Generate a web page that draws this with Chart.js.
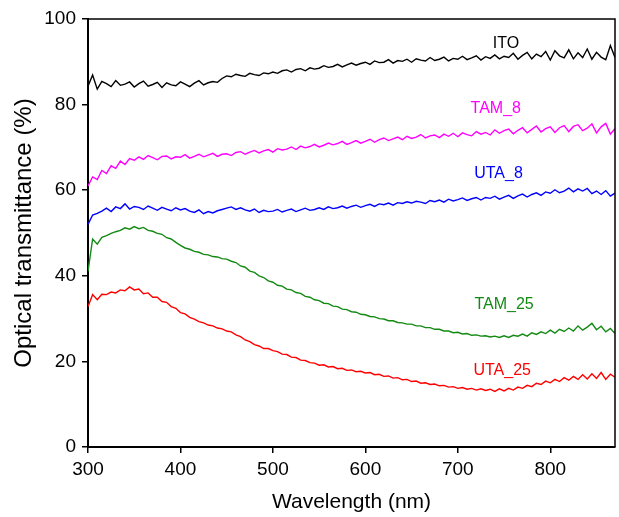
<!DOCTYPE html>
<html>
<head>
<meta charset="utf-8">
<script src="https://cdn.jsdelivr.net/npm/chart.js@4.4.0/dist/chart.umd.min.js"></script>
<style>
    html, body { margin: 0; padding: 0; background: #fff; }
    #wrap { width: 619px; height: 517px; }
</style>
</head>
<body>
<div id="wrap"><canvas id="spectraChart" width="619" height="517"></canvas></div>
<script>
// sampling grid (nm), every 5 nm from 300 to 870
const wavelengths = [];
for (let w = 300; w <= 870; w += 5) wavelengths.push(w);

const xTicks = [300, 400, 500, 600, 700, 800];
const yTicks = [0, 20, 40, 60, 80, 100];

const ito = [
    84.3, 86.9, 83.6, 85.4, 84.9, 84.2, 85.6, 84.5, 84.8, 85.3,
    84.1, 84.9, 85.5, 84.3, 84.7, 85.2, 84.0, 85.1, 84.6, 84.4,
    85.3, 84.8, 84.2, 85.0, 85.6, 84.6, 85.1, 85.4, 85.2, 86.1,
    86.7, 86.5, 87.1, 86.8, 86.6, 87.3, 87.0, 86.8, 87.4, 87.2,
    87.6, 87.3, 87.9, 88.1, 87.6, 88.2, 88.4, 87.9, 88.6, 88.3,
    88.5, 89.1, 88.7, 88.9, 89.4, 88.8, 89.3, 89.7, 89.2, 89.6,
    89.9, 89.4, 90.2, 89.8, 89.9, 90.5, 89.7, 90.3, 90.1, 90.6,
    89.9, 90.7, 90.4, 90.2, 91.0, 90.3, 90.6, 91.1, 90.2, 90.8,
    90.6, 91.3, 90.5, 90.9, 91.4, 90.4, 91.2, 90.8, 91.6, 90.7,
    91.3, 91.0, 92.0, 90.6, 91.5, 92.2, 90.7, 91.8, 91.2, 92.4,
    90.4, 92.6, 91.4, 90.9, 92.8, 90.7, 92.1, 91.0, 93.0, 90.6,
    92.2, 91.1, 90.5, 93.8, 91.0
];

const tam8 = [
    61.0, 63.1, 62.5, 64.6, 63.9, 65.7, 65.1, 66.8, 66.0, 67.4,
    67.0, 67.8, 67.2, 68.1, 67.6, 67.1, 67.9, 68.0, 67.3, 67.8,
    67.7, 68.3, 67.5, 67.9, 68.4, 67.8, 68.2, 68.6, 67.9, 68.4,
    68.5, 68.1, 68.8, 69.0, 68.4, 68.9, 69.3, 68.7, 69.2, 69.5,
    68.9, 69.7, 69.4, 69.6, 70.1, 69.5, 70.3, 69.9, 70.2, 70.7,
    70.1, 70.5, 71.0, 70.6, 70.9, 71.4, 70.7, 71.1, 71.6, 71.0,
    71.4, 71.9, 71.2, 71.8, 72.2, 71.6, 72.0, 72.4, 71.8, 72.6,
    72.1, 72.4, 73.0, 72.2, 72.7, 72.9, 72.3, 73.1, 72.6, 73.3,
    72.5, 73.4, 73.0, 72.7, 73.7, 73.1, 73.5, 72.9, 74.1, 73.3,
    73.9, 74.3, 73.2, 74.0, 74.6, 73.4, 74.2, 75.0, 73.6, 74.4,
    74.8, 73.5, 74.6, 75.1, 73.7, 74.9, 75.3, 73.9, 74.5, 75.5,
    73.4, 74.8, 75.6, 73.1, 74.4
];

const uta8 = [
    52.0, 54.2, 54.6, 55.1, 55.8, 55.0, 56.1, 55.7, 56.8, 55.6,
    56.2, 56.0, 55.5, 56.3, 55.8, 55.3, 56.0, 55.6, 55.2, 55.9,
    55.4, 55.7, 55.1, 54.8, 55.4, 54.5, 55.0, 54.7, 55.2, 55.5,
    55.8, 56.1, 55.5, 55.9, 55.4, 55.1, 55.6, 54.8, 55.3, 55.0,
    55.1, 55.5, 54.9, 55.3, 55.6, 55.0, 55.4, 55.8, 55.3, 55.5,
    55.9, 55.5, 56.1, 55.7, 55.9, 56.3, 55.8, 56.2, 56.5, 56.0,
    56.4, 56.7, 56.2, 56.8, 56.6, 57.0, 56.5, 57.1, 56.9, 57.3,
    57.0, 57.4, 57.2, 56.9, 57.6, 57.3, 57.7, 57.2, 57.9, 57.5,
    57.8, 58.2, 57.6, 58.0, 58.3, 57.7, 58.3, 58.1, 58.6, 57.9,
    58.4, 58.8, 58.1, 58.7, 59.1, 58.4, 59.0, 59.4, 58.8, 59.6,
    59.3, 60.1, 59.4, 59.8, 60.5, 59.6, 60.3, 59.8, 60.4, 59.2,
    59.8, 59.0, 59.9, 58.6, 59.3
];

const tam25 = [
    41.0, 48.6, 47.4, 49.0, 49.4, 49.9, 50.3, 50.6, 51.2, 50.9,
    51.5, 51.0, 51.3, 50.6, 50.4, 49.9, 49.7, 48.9, 48.6, 47.8,
    47.1, 46.5, 46.2, 45.7, 45.5, 45.0, 44.9, 44.5, 44.4, 44.0,
    43.9, 43.4, 43.1, 42.3, 42.0, 41.1, 40.8, 40.0, 39.6, 38.8,
    38.5, 37.8, 37.6, 36.9, 36.7, 36.1, 35.9, 35.2, 35.0, 34.4,
    34.2, 33.6, 33.5, 32.9, 32.8, 32.2, 32.1, 31.6, 31.5, 31.0,
    30.9, 30.5, 30.4, 30.0, 29.9, 29.5, 29.5, 29.1, 29.0, 28.7,
    28.7, 28.3, 28.3, 27.9, 27.9, 27.5, 27.5, 27.1, 27.1, 26.7,
    26.8, 26.4, 26.5, 26.1, 26.2, 25.9, 26.0, 25.7, 25.9, 25.6,
    26.0, 25.6, 26.1, 25.9, 26.4, 25.9, 26.7, 26.3, 26.9, 26.5,
    27.3, 26.6, 27.5, 27.0, 27.8, 27.1, 28.3, 27.3, 28.0, 28.9,
    27.4, 28.2, 26.9, 27.7, 26.5
];

const uta25 = [
    32.8, 35.6, 34.4, 35.7, 35.6, 36.2, 36.0, 36.7, 36.5, 37.4,
    36.7, 36.9, 35.8, 36.0, 35.0, 35.0, 34.0, 33.8, 32.8, 32.4,
    31.4, 31.1, 30.3, 29.9, 29.3, 29.0, 28.5, 28.3, 27.8, 27.6,
    27.1, 26.9, 26.2, 25.8, 25.0, 24.6, 23.9, 23.6, 23.0, 23.0,
    22.5, 22.3, 21.7, 21.6, 21.0, 20.9, 20.3, 20.2, 19.7, 19.6,
    19.1, 19.2, 18.7, 18.8, 18.3, 18.4, 17.9, 18.0, 17.6, 17.7,
    17.3, 17.4, 16.9, 17.0, 16.5, 16.6, 16.1, 16.2, 15.7, 15.8,
    15.3, 15.4, 14.9, 15.0, 14.6, 14.7, 14.3, 14.4, 14.0, 14.1,
    13.7, 13.9, 13.5, 13.7, 13.3, 13.6, 13.2, 13.5, 13.0, 13.6,
    13.1, 13.7, 13.3, 14.0, 13.7, 14.4, 14.1, 14.9, 14.6, 15.4,
    15.0, 15.8, 15.3, 16.2, 15.6, 16.5, 15.8, 16.9, 15.9, 17.1,
    16.0, 17.4, 15.8, 17.0, 16.3
];

const seriesNames = ['ITO', 'TAM_8', 'UTA_8', 'TAM_25', 'UTA_25'];
const seriesColors = ['#000000', '#ff00ff', '#0000ff', '#138a13', '#ff0000'];
const seriesValues = [ito, tam8, uta8, tam25, uta25];

// where each curve name sits, in data units (nm, %)
const labelAt = [
    { x: 752, y: 94.2 },
    { x: 741, y: 79.0 },
    { x: 744, y: 63.8 },
    { x: 750, y: 33.2 },
    { x: 748, y: 17.8 }
];

const FONT = 'Arial, "Liberation Sans", sans-serif';

function toPoints(values) {
    return values.map((v, i) => ({ x: wavelengths[i], y: v }));
}

// curve names and the box round the plot
const curveLabels = {
    id: 'curveLabels',
    afterDraw(chart) {
        const { ctx, chartArea, scales } = chart;
        ctx.save();
        ctx.font = '16px ' + FONT;
        ctx.textAlign = 'center';
        ctx.textBaseline = 'middle';
        seriesNames.forEach((name, i) => {
            ctx.fillStyle = seriesColors[i];
            ctx.fillText(name, scales.x.getPixelForValue(labelAt[i].x), scales.y.getPixelForValue(labelAt[i].y));
        });
        ctx.strokeStyle = '#000';
        ctx.lineWidth = 1.5;
        ctx.beginPath();
        ctx.moveTo(chartArea.left, chartArea.top);
        ctx.lineTo(chartArea.right, chartArea.top);
        ctx.lineTo(chartArea.right, chartArea.bottom);
        ctx.stroke();
        ctx.restore();
    }
};

const ctx = document.getElementById('spectraChart').getContext('2d');
new Chart(ctx, {
    type: 'line',
    data: {
        datasets: seriesNames.map((name, i) => ({
            label: name,
            data: toPoints(seriesValues[i]),
            borderColor: seriesColors[i],
            borderWidth: 1.4,
            pointRadius: 0,
            tension: 0,
            fill: false
        }))
    },
    options: {
        responsive: false,
        animation: false,
        layout: { padding: { left: 0, right: 4, top: 19, bottom: 0 } },
        plugins: {
            legend: { display: false },
            tooltip: { enabled: false }
        },
        scales: {
            x: {
                type: 'linear',
                min: 300,
                max: 870,
                afterBuildTicks: (scale) => { scale.ticks = xTicks.map(v => ({ value: v })); },
                afterFit: (scale) => { scale.height = 70; },
                ticks: { color: '#000', font: { family: FONT, size: 19 }, padding: 5 },
                grid: { display: true, drawOnChartArea: false, drawTicks: true, tickLength: 6, color: '#000', lineWidth: 1.5 },
                border: { display: true, color: '#000', width: 2 },
                title: {
                    display: true,
                    text: 'Wavelength (nm)',
                    color: '#000',
                    font: { family: FONT, size: 21 },
                    padding: { top: 0, bottom: 2 }
                }
            },
            y: {
                type: 'linear',
                min: 0,
                max: 100,
                afterBuildTicks: (scale) => { scale.ticks = yTicks.map(v => ({ value: v })); },
                afterFit: (scale) => { scale.width = 88; },
                ticks: { color: '#000', font: { family: FONT, size: 19 }, padding: 6 },
                grid: { display: true, drawOnChartArea: false, drawTicks: true, tickLength: 6, color: '#000', lineWidth: 1.5 },
                border: { display: true, color: '#000', width: 2 },
                title: {
                    display: true,
                    text: 'Optical transmittance (%)',
                    color: '#000',
                    font: { family: FONT, size: 24 },
                    padding: { top: 10, bottom: 0 }
                }
            }
        }
    },
    plugins: [curveLabels]
});
</script>
</body>
</html>
